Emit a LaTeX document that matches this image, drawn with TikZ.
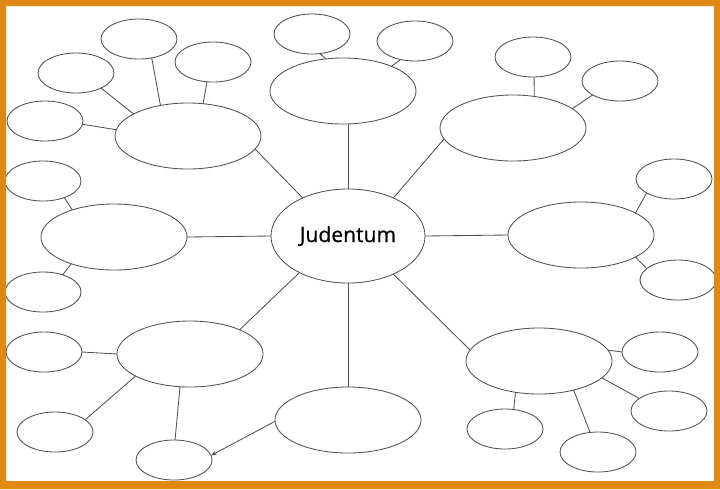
\documentclass[tikz,border=0pt]{standalone}
\usepackage{fontspec}
\setmainfont{Open Sans}[BoldFont={Open Sans},BoldFeatures={FakeBold=0.8}]
\usetikzlibrary{shapes.geometric,arrows.meta}
\definecolor{frameorange}{RGB}{224,136,20}
\definecolor{linegray}{RGB}{80,80,80}
\begin{document}
\begin{tikzpicture}[x=0.025cm,y=-0.025cm,
    big/.style={ellipse,draw=linegray,line width=0.6pt,minimum width=3.65cm,
      minimum height=1.65cm,inner sep=0pt,outer sep=0pt},
    sat/.style={big,minimum width=1.9cm,minimum height=1cm},
    con/.style={draw=linegray,line width=0.6pt}]
  \useasboundingbox (0,0) rectangle (720,489);
  \fill[white] (0,0) rectangle (720,489);
  % centre
  \node[big,minimum width=3.85cm,minimum height=2.35cm,
    font=\fontsize{15}{18}\selectfont\bfseries] (c) at (348,236) {Judentum};
  % big ellipses
  \node[big] (tl) at (188,136) {};
  \node[big] (tm) at (343,91) {};
  \node[big] (tr) at (513,128) {};
  \node[big] (l) at (114,237) {};
  \node[big] (r) at (581,235) {};
  \node[big] (bl) at (190,354) {};
  \node[big] (b) at (348,420) {};
  \node[big] (br) at (539,361) {};
  % small ellipses
  \node[sat] (tl1) at (139,39) {};
  \node[sat] (tl2) at (213,62) {};
  \node[sat] (tl3) at (76,73) {};
  \node[sat] (tl4) at (45,121) {};
  \node[sat] (tm1) at (312,34) {};
  \node[sat] (tm2) at (415,41) {};
  \node[sat] (tr1) at (533,57) {};
  \node[sat] (tr2) at (620,81) {};
  \node[sat] (l1) at (43,181) {};
  \node[sat] (l2) at (43,292) {};
  \node[sat] (r1) at (674,179) {};
  \node[sat] (r2) at (678,280) {};
  \node[sat] (bl1) at (44,352) {};
  \node[sat] (bl2) at (55,432) {};
  \node[sat] (bl3) at (174,460) {};
  \node[sat] (br1) at (660,352) {};
  \node[sat] (br2) at (669,411) {};
  \node[sat] (br3) at (505,429) {};
  \node[sat] (br4) at (598,452) {};
  % spokes from the centre
  \draw[con] (c.140) -- (tl.-11);
  \draw[con] (c.north) -- (c.north |- tm.south);
  \draw[con] (c.40) -- (tr.-171);
  \draw[con] (c.180) -- (l.0);
  \draw[con] (c.0) -- (r.180);
  \draw[con] (c.217) -- (bl.26);
  \draw[con] (c.-90) -- (b.90);
  \draw[con] (c.-40) -- (br.171);
  % outer links
  \draw[con] (tl.132) -- (tl1.-56);
  \draw[con] (tl.65) -- (tl2.-107);
  \draw[con] (tl.158) -- (tl3.-31);
  \draw[con] (tl.175) -- (tl4.-5);
  \draw[con] (tm.118) -- (tm1.-68);
  \draw[con] (tm.27) -- (tm2.-128);
  \draw[con] (tr.56) -- (tr1.-87);
  \draw[con] (tr.18) -- (tr2.-153);
  \draw[con] (l.147) -- (l1.-38);
  \draw[con] (l.212) -- (l2.41);
  \draw[con] (r.22) -- (r1.-153);
  \draw[con] (r.-22) -- (r2.160);
  \draw[con] (bl.180) -- (bl1.0);
  \draw[con] (bl.202) -- (bl2.22);
  \draw[con] (bl.253) -- (bl3.87);
  \draw[con,-{Stealth[length=4pt,width=3pt]}] (b.181) -- (bl3.7);
  \draw[con] (br.9) -- (br1.180);
  \draw[con] (br.-15) -- (br2.157);
  \draw[con] (br.233) -- (br3.66);
  \draw[con] (br.-40) -- (br4.112);
  % frame
  \fill[frameorange,even odd rule] (0,0) rectangle (720,489) (6,6) rectangle (714,481);
\end{tikzpicture}
\end{document}
